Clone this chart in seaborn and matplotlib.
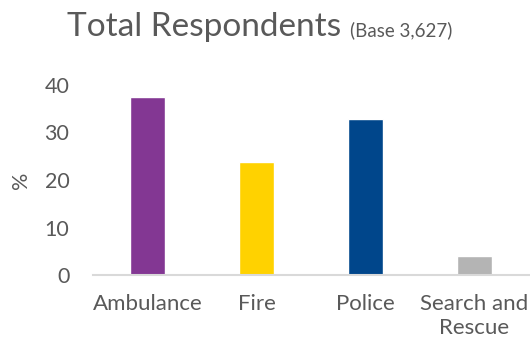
import matplotlib
matplotlib.use("Agg")
import matplotlib.pyplot as plt
import seaborn as sns
import pandas as pd

categories = ["Ambulance", "Fire", "Police", "Search and\nRescue"]
values = [37.5, 23.8, 32.9, 4.0]
bar_colors = ["#833793", "#FFD200", "#00468B", "#B4B4B4"]
y_ticks = [0, 10, 20, 30, 40]

sns.set_theme(style="white")
plt.rcParams["font.family"] = ["Lato", "DejaVu Sans"]
TEXT = "#595959"

W, H = 530, 342
fig = plt.figure(figsize=(W / 100, H / 100), dpi=100)
ax = fig.add_axes([93 / W, 1 - 275 / H, 436 / W, (275 - 85) / H])

df = pd.DataFrame({"service": categories, "pct": values})
sns.barplot(data=df, x="service", y="pct", hue="service", palette=bar_colors,
            width=0.33, legend=False, ax=ax, saturation=1)

ax.set_ylim(0, 40)
ax.set_yticks(y_ticks)
ax.set_xlim(-0.5, 3.5)
for s in ["top", "right", "left"]:
    ax.spines[s].set_visible(False)
ax.spines["bottom"].set_color("#D9D9D9")
ax.spines["bottom"].set_linewidth(1.5)
ax.tick_params(axis="both", length=0, colors=TEXT)
ax.tick_params(axis="y", pad=17, labelsize=15.5)
ax.tick_params(axis="x", pad=14, labelsize=16)
ax.set_xlabel("")
ax.set_ylabel("%", fontsize=15.5, color=TEXT)
ax.yaxis.set_label_coords(-62 / 436, 0.5)

fig.text(67 / W, 1 - 36 / H, "Total Respondents", fontsize=24, color=TEXT,
         va="baseline", ha="left")
fig.text(350 / W, 1 - 36 / H, "(Base 3,627)", fontsize=13.5, color=TEXT,
         va="baseline", ha="left")

fig.savefig("out.png", dpi=100)
